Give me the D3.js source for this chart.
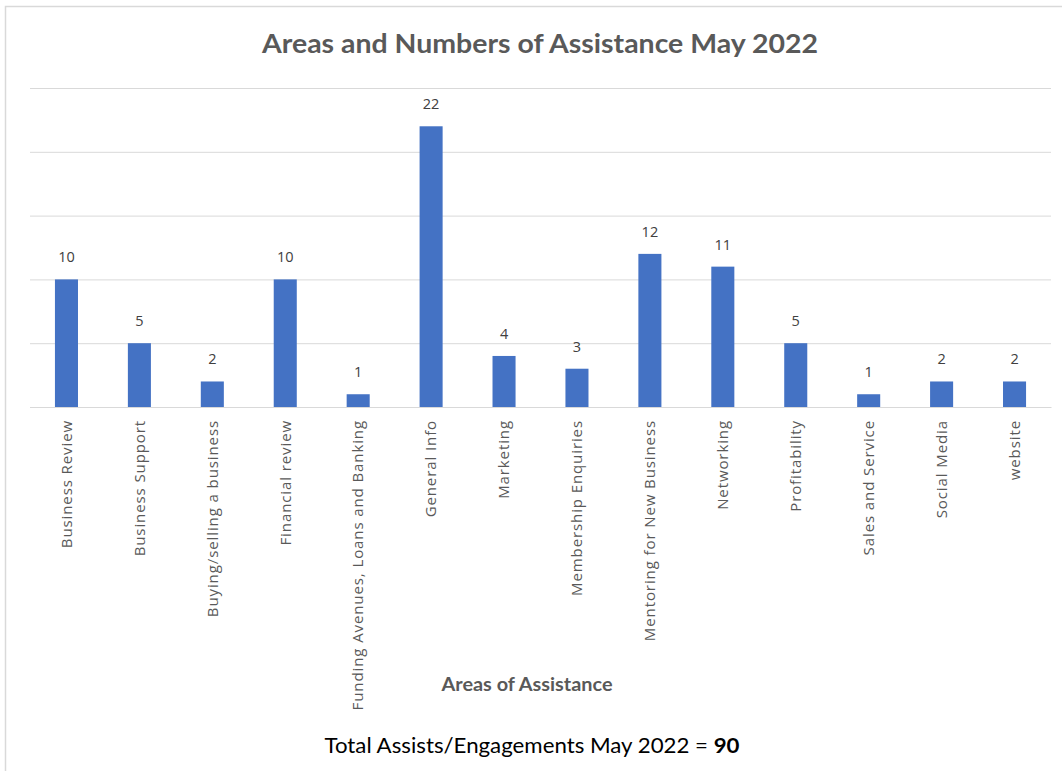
<!DOCTYPE html>
<html><head><meta charset="utf-8">
<script src="https://cdn.jsdelivr.net/npm/d3@7/dist/d3.min.js"></script>
<style>body{margin:0;background:#fff;}svg{display:block;}</style>
</head><body>
<script>
const categories = ["Business Review","Business Support","Buying/selling a business","Financial review","Funding Avenues, Loans and Banking","General Info","Marketing","Membership Enquiries","Mentoring for New Business","Networking","Profitability","Sales and Service","Social Media","website"];
const values = [10,5,2,10,1,22,4,3,12,11,5,1,2,2];
const yTicks = [0,5,10,15,20,25];
const title = "Areas and Numbers of Assistance May 2022";
const xTitle = "Areas of Assistance";
const totalLabel = "Total Assists/Engagements May 2022 = ";
const totalValue = "90";

(function(){
const W = 1062, H = 771;
const svg = d3.select("body").append("svg").attr("width", W).attr("height", H);
svg.append("rect").attr("x",0).attr("y",0).attr("width",W).attr("height",H).attr("fill","#fff");
svg.append("path").attr("d", `M5.5,${H} V6.5 H${W}`).attr("fill","none").attr("stroke","#d9d9d9").attr("stroke-width",1.5);

const mL = 30, mR = 1051, mT = 88, mB = 407;
const x = d3.scaleBand().domain(categories).range([mL, mR]).paddingInner(0.684).paddingOuter(0.342);
const y = d3.scaleLinear().domain([0,25]).range([mB, mT]);

const grid = svg.append("g").attr("transform", `translate(${mL},0)`)
  .call(d3.axisLeft(y).tickValues(yTicks).tickSize(-(mR-mL)).tickFormat(""));
grid.select(".domain").remove();
grid.selectAll("line").attr("stroke","#d9d9d9").attr("stroke-width",1);

svg.append("g").selectAll("rect").data(values).join("rect")
  .attr("x",(d,i)=>x(categories[i])).attr("width",x.bandwidth())
  .attr("y",d=>y(d)).attr("height",d=>y(0)-y(d)).attr("fill","#4472c4");

svg.append("g").selectAll("text").data(values).join("text")
  .attr("x",(d,i)=>x(categories[i])+x.bandwidth()/2).attr("y",d=>y(d)-17)
  .attr("text-anchor","middle").attr("font-family","Open Sans, sans-serif").attr("font-size",14.5)
  .attr("fill","#404040").text(d=>d);

const xa = svg.append("g").attr("transform",`translate(0,${mB})`)
  .call(d3.axisBottom(x).tickSize(0).tickPadding(0));
xa.select(".domain").attr("stroke","#d9d9d9");
xa.selectAll("text").attr("transform","rotate(-90)").attr("text-anchor","end")
  .attr("x",-13).attr("y",0).attr("dy","0.35em")
  .attr("font-family","Open Sans, sans-serif").attr("font-size",15).attr("letter-spacing","0.9px")
  .attr("fill","#595959");

svg.append("text").attr("x",540).attr("y",53).attr("text-anchor","middle")
  .attr("font-family","Lato, sans-serif").attr("font-weight","bold").attr("font-size",27)
  .attr("textLength",556).attr("lengthAdjust","spacingAndGlyphs")
  .attr("fill","#595959").text(title);

svg.append("text").attr("x",527).attr("y",691).attr("text-anchor","middle")
  .attr("font-family","Lato, sans-serif").attr("font-weight","bold").attr("font-size",18.5)
  .attr("textLength",171).attr("lengthAdjust","spacingAndGlyphs")
  .attr("fill","#595959").text(xTitle);

const t = svg.append("text").attr("x",532).attr("y",753).attr("text-anchor","middle")
  .attr("font-family","Lato, sans-serif").attr("font-size",21).attr("fill","#000")
  .attr("textLength",415).attr("lengthAdjust","spacingAndGlyphs");
t.append("tspan").text(totalLabel);
t.append("tspan").attr("font-weight","bold").text(totalValue);
})();
</script>
</body></html>
